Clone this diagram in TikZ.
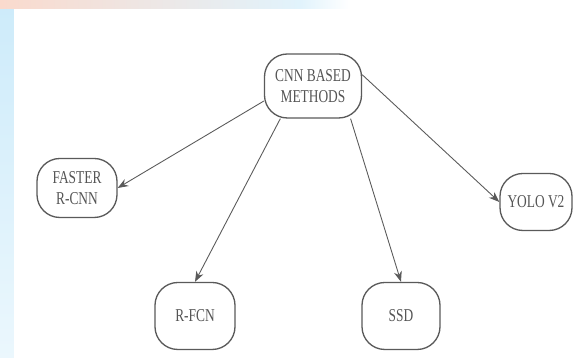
\documentclass[tikz,border=0pt]{standalone}
\usepackage{fontspec}
\setmainfont[FakeStretch=0.74]{Liberation Serif}
\usetikzlibrary{arrows.meta}

\definecolor{boxline}{RGB}{90,90,90}
\definecolor{boxtext}{RGB}{85,85,85}
\definecolor{edgeblue}{RGB}{205,235,250}
\definecolor{edgepink}{RGB}{250,218,205}

\tikzset{
    method/.style={draw=boxline, line width=0.75pt, rounded corners=13pt,
        text=boxtext, align=center, inner sep=0pt,
        font=\fontsize{10.3}{11.6}\selectfont},
    link/.style={draw=boxline, line width=0.5pt, -{Stealth[length=6pt, width=4.5pt]}}
}

\begin{document}
\begin{tikzpicture}
    % page and faded border
    \useasboundingbox (0, 0) rectangle (11.74, 7.16);
    \fill[white] (0, 0) rectangle (11.74, 7.16);
    \fill[top color=edgeblue, bottom color=edgeblue!40] (0, 0) rectangle (0.28, 7.16);
    \fill[left color=edgepink, right color=edgeblue!60] (0, 6.98) rectangle (6.0, 7.16);
    \fill[left color=edgeblue!60, right color=white] (6.0, 6.98) rectangle (7.0, 7.16);
    % root
    \node[method, minimum width=1.94cm, minimum height=1.28cm] (cnn) at (6.26, 5.44) {CNN BASED\\METHODS};
    % children
    \node[method, minimum width=1.60cm, minimum height=1.18cm] (faster) at (1.54, 3.40) {FASTER\\R-CNN};
    \node[method, minimum width=1.60cm, minimum height=1.34cm] (rfcn) at (3.90, 0.84) {R-FCN};
    \node[method, minimum width=1.56cm, minimum height=1.34cm] (ssd) at (8.02, 0.84) {SSD};
    \node[method, minimum width=1.44cm, minimum height=1.14cm] (yolo) at (10.72, 3.12) {YOLO V2};
    % links
    \draw[link] (cnn.197) -- (faster.east);
    \draw[link] (cnn.225) -- (rfcn.north);
    \draw[link] (cnn.319) -- (ssd.north);
    \draw[link] (cnn.13) -- (yolo.west);
\end{tikzpicture}
\end{document}
